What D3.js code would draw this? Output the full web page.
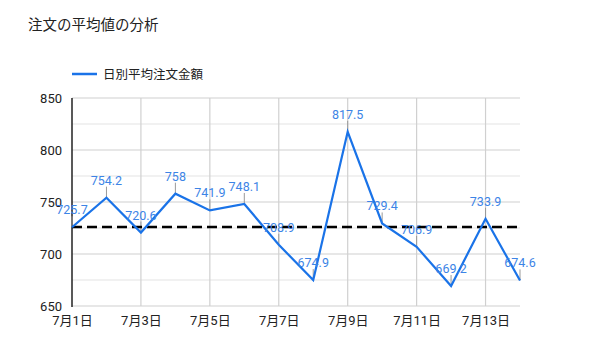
<!DOCTYPE html>
<html><head><meta charset="utf-8">
<script src="https://cdn.jsdelivr.net/npm/d3@7"></script>
<style>body{margin:0;background:#fff;} text{font-family:Roboto,"Noto Sans CJK JP",sans-serif;}</style>
</head><body><svg id="c" width="600" height="360"></svg>
<script>
const days = ["7月1日","7月2日","7月3日","7月4日","7月5日","7月6日","7月7日","7月8日","7月9日","7月10日","7月11日","7月12日","7月13日","7月14日"];
const values = [725.7,754.2,720.6,758,741.9,748.1,708.9,674.9,817.5,729.4,706.9,669.2,733.9,674.6];
const xTickLabels = ["7月1日","7月3日","7月5日","7月7日","7月9日","7月11日","7月13日"];
const yTicks = [650,700,750,800,850];
const yMinor = [675,725,775,825];
const title = "注文の平均値の分析";
const seriesName = "日別平均注文金額";
const avg = d3.mean(values);

(function(){
const svg = d3.select("#c");
const pL=72, pR=520, pT=98, pB=306;
const x = d3.scalePoint().domain(days).range([pL,pR]);
const y = d3.scaleLinear().domain([650,850]).range([pB,pT]);
const blue = "#1a73e8";

svg.append("text").attr("x",28).attr("y",30).attr("font-size",14.5).attr("fill","#222").text(title);
svg.append("line").attr("x1",72).attr("x2",97).attr("y1",74).attr("y2",74).attr("stroke",blue).attr("stroke-width",2.5);
svg.append("text").attr("x",103).attr("y",79).attr("font-size",12.5).attr("fill","#222").text(seriesName);

const g = svg.append("g");
g.selectAll(".hg").data(yTicks.concat(yMinor)).join("line")
 .attr("x1",pL).attr("x2",pR).attr("y1",d=>y(d)).attr("y2",d=>y(d))
 .attr("stroke",d=>yTicks.includes(d)?"#d0d0d0":"#e3e3e3").attr("stroke-width",1.2);
g.selectAll(".vg").data(xTickLabels.slice(1)).join("line")
 .attr("x1",d=>x(d)).attr("x2",d=>x(d)).attr("y1",pT).attr("y2",pB)
 .attr("stroke","#d0d0d0").attr("stroke-width",1.2);

const yAxis = d3.axisLeft(y).tickValues(yTicks).tickSize(0).tickPadding(10);
const ya = svg.append("g").attr("transform",`translate(${pL},0)`).call(yAxis);
ya.select(".domain").remove();
ya.selectAll("text").attr("font-size",13).attr("fill","#222").style("font-family","Roboto, sans-serif");
const xAxis = d3.axisBottom(x).tickValues(xTickLabels).tickSize(0).tickPadding(10);
const xa = svg.append("g").attr("transform",`translate(0,${pB})`).call(xAxis);
xa.select(".domain").remove();
xa.selectAll("text").attr("font-size",13).attr("fill","#222").style("font-family",'Roboto,"Noto Sans CJK JP",sans-serif');
svg.append("line").attr("x1",pL).attr("x2",pL).attr("y1",pT).attr("y2",pB+1).attr("stroke","#222").attr("stroke-width",1.5);

svg.selectAll(".stem").data(values).join("line")
 .attr("x1",(d,i)=>x(days[i])).attr("x2",(d,i)=>x(days[i]))
 .attr("y1",d=>y(d)).attr("y2",d=>y(d)-11).attr("stroke","#999").attr("stroke-width",1);

svg.append("line").attr("x1",pL).attr("x2",pR).attr("y1",y(avg)).attr("y2",y(avg))
 .attr("stroke","#000").attr("stroke-width",2.5).attr("stroke-dasharray","10,5");

const line = d3.line().x((d,i)=>x(days[i])).y(d=>y(d));
svg.append("path").datum(values).attr("d",line).attr("fill","none").attr("stroke",blue).attr("stroke-width",2.2);

svg.selectAll(".lbl").data(values).join("text")
 .attr("x",(d,i)=>x(days[i])).attr("y",d=>y(d)-13)
 .attr("text-anchor","middle").attr("font-size",12.5).attr("fill","#3c84e6")
 .text(d=>d);
})();
</script></body></html>
